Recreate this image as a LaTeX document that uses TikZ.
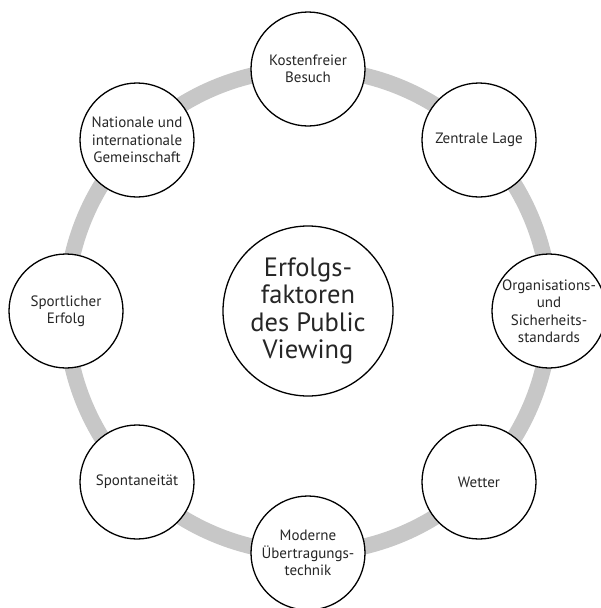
\documentclass[tikz,border=0pt]{standalone}
\usepackage{fontspec}
\setmainfont{PT Sans}

\begin{document}
\begin{tikzpicture}[x=1pt,y=-1pt,
  ring/.style={line width=16pt,black!22},
  factor/.style={circle,draw,line width=1.3pt,fill=white,minimum size=114pt,
    inner sep=0pt,align=center,text=black!85,font=\fontsize{15}{17.5}\selectfont},
  core/.style={circle,draw,line width=1.3pt,fill=white,minimum size=170pt,
    inner sep=0pt,align=center,text=black!85,font=\fontsize{26.5}{27.5}\selectfont}]
\useasboundingbox (0,0) rectangle (601,608);

\node[core] (erfolg) at (308,311) {Erfolgs-\\faktoren\\des Public\\Viewing};
\draw[ring] (erfolg.center) circle (242);

\node[factor] (kosten) at (308,69) {Kostenfreier\\Besuch};
\node[factor] (lage) at (479,140) {Zentrale Lage};
\node[factor] (orga) at (549,311) {Organisations-\\und\\Sicherheits-\\standards};
\node[factor] (wetter) at (479,482) {Wetter};

\node[factor] (technik) at (308,553) {Moderne\\Übertragungs-\\technik};
\node[factor] (spontan) at (137,482) {Spontaneität};
\node[factor] (sport) at (66,311) {Sportlicher\\Erfolg};
\node[factor] (gemeinschaft) at (137,140) {Nationale und\\internationale\\Gemeinschaft};
\end{tikzpicture}
\end{document}
